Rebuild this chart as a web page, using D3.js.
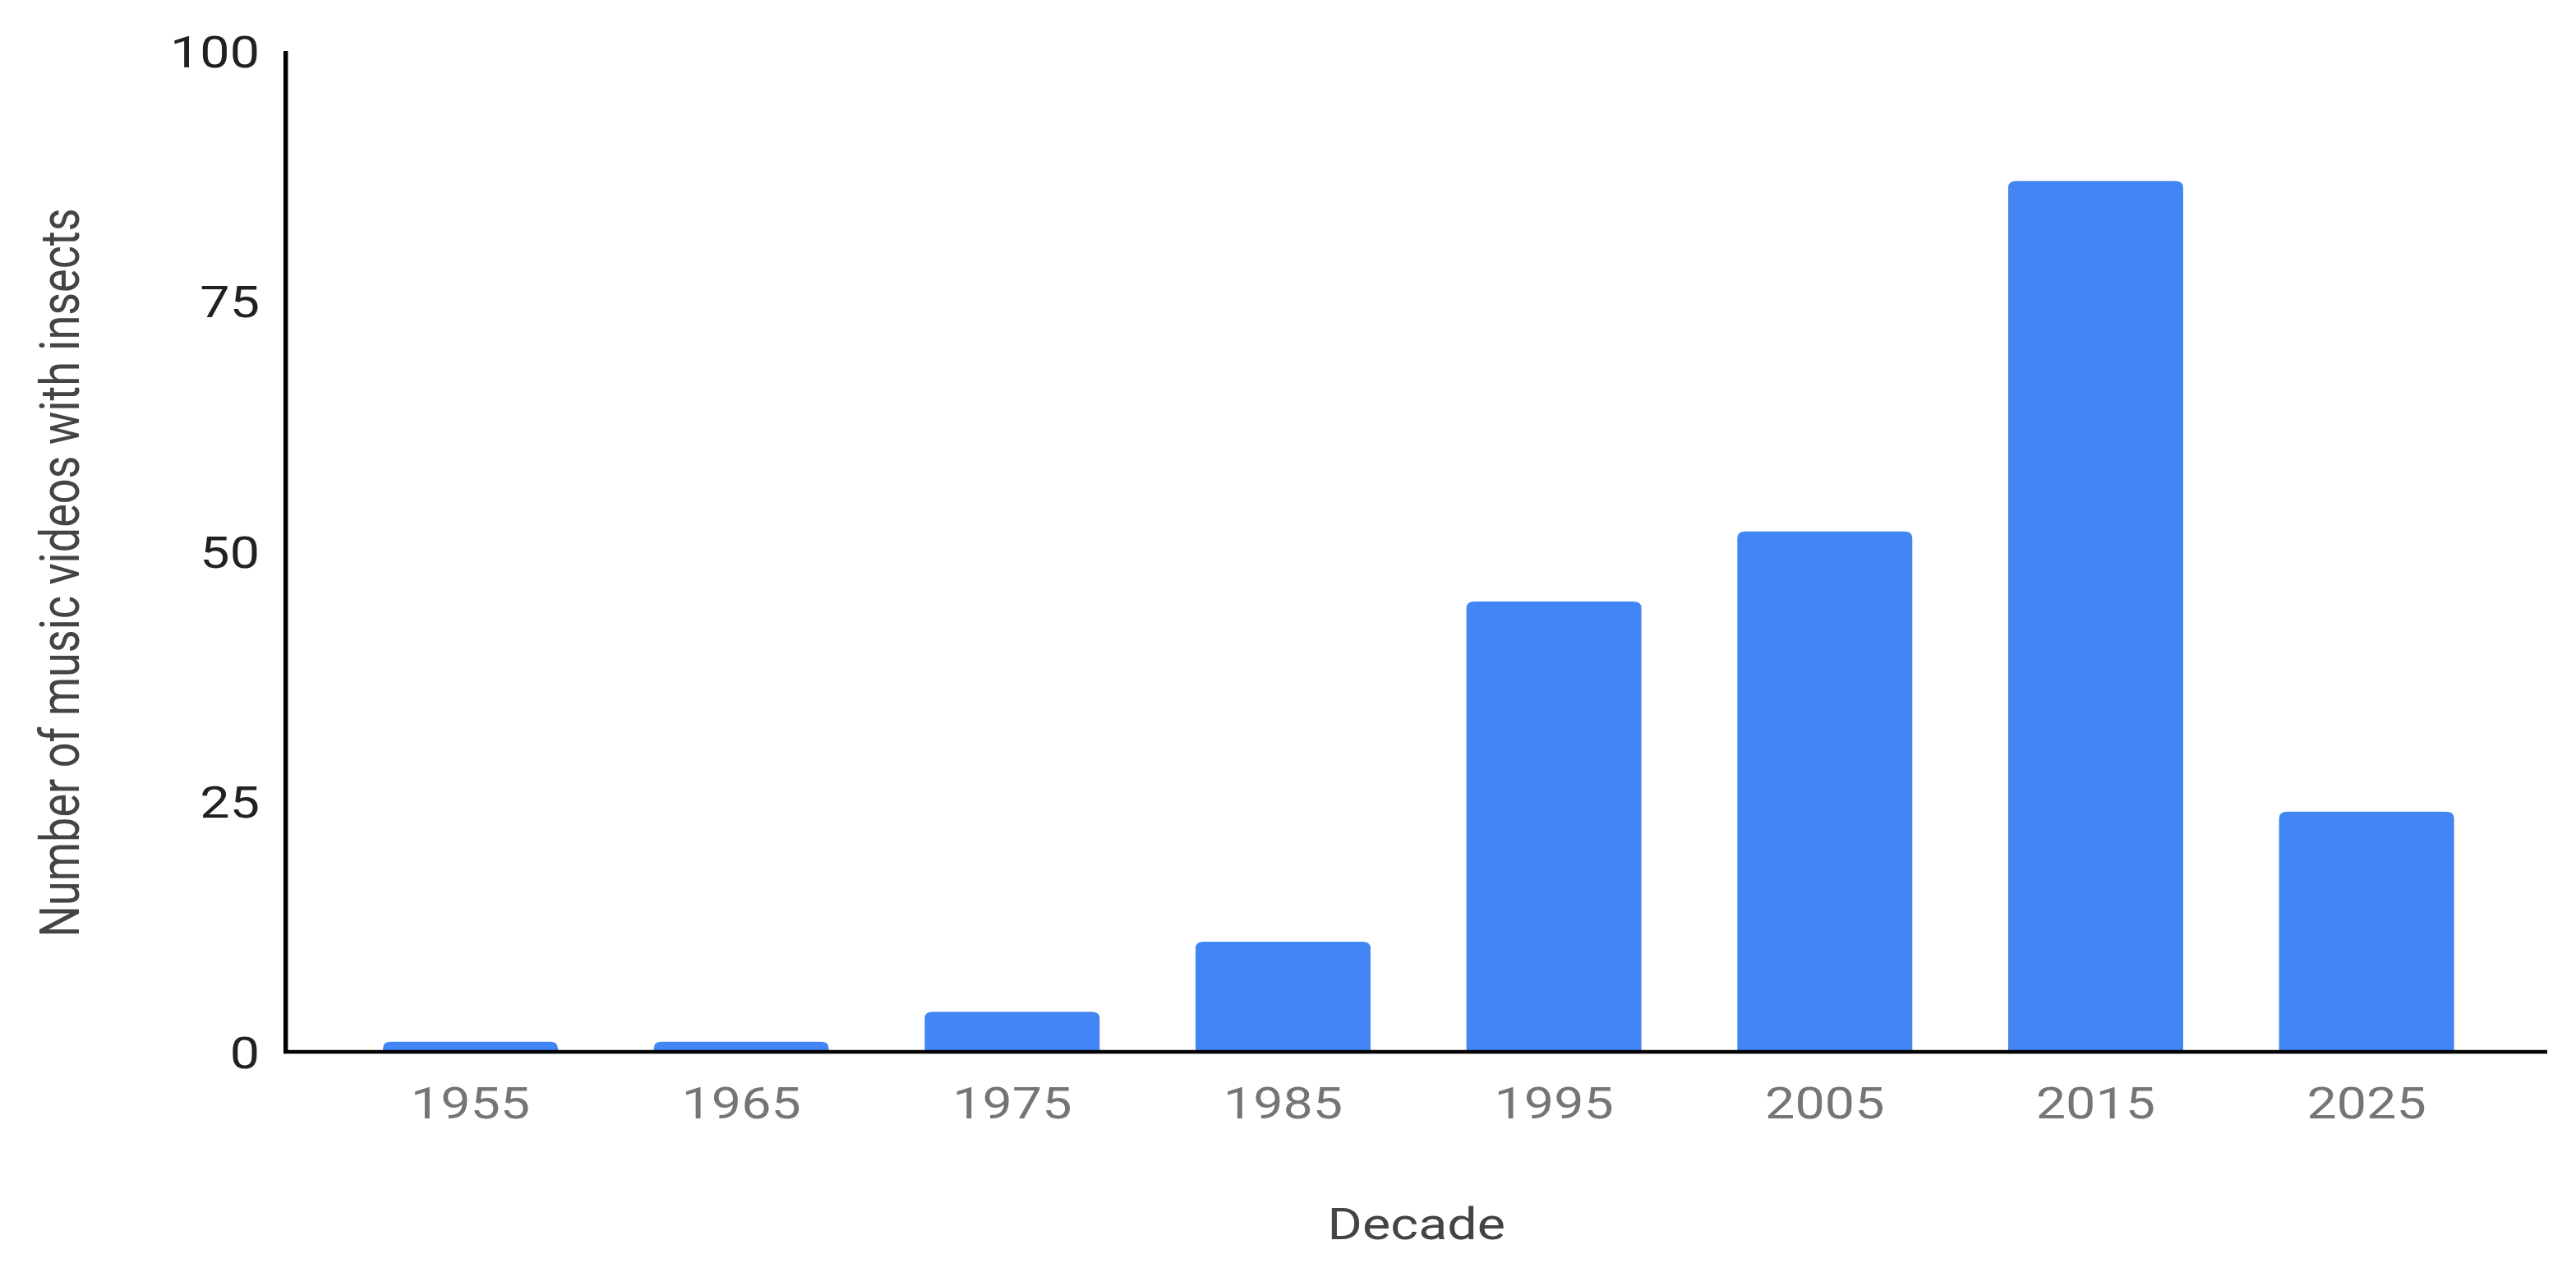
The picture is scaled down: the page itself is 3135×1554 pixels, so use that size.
<!DOCTYPE html>
<html>
<head>
<meta charset="utf-8">
<script src="https://cdn.jsdelivr.net/npm/d3@7"></script>
<style>
  html, body { margin: 0; padding: 0; background: #fff; }
  text { font-family: Roboto, sans-serif; }
</style>
</head>
<body>
<div id="d3-container"></div>
<script>
const decades = ['1955', '1965', '1975', '1985', '1995', '2005', '2015', '2025']
const videoCounts = [1, 1, 4, 11, 45, 52, 87, 24]
const yTicks = [0, 25, 50, 75, 100]

// the original picture is stretched sideways, so draw in a narrower box and let the viewBox stretch it
const stretch = 1.22
const outW = 3135
const height = 1554
const width = outW / stretch
const margin = { top: 62, bottom: 274, left: 285, right: width - 2541 }

const svg = d3.select('#d3-container')
    .append('svg')
    .attr('width', outW)
    .attr('height', height)
    .attr('viewBox', [0, 0, width, height])
    .attr('preserveAspectRatio', 'none')
    .style('display', 'block')

const x = d3.scaleBand()
    .domain(decades)
    .range([margin.left + 2.4, width - margin.right + 1.6])
    .paddingInner(0.354)
    .paddingOuter(0.35)

const y = d3.scaleLinear()
    .domain([0, 100])
    .range([height - margin.bottom, margin.top])

// bars with rounded top corners
function barPath(x0, y0, w, h, r) {
    r = Math.min(r, h, w / 2)
    return `M${x0},${y0 + h}V${y0 + r}Q${x0},${y0} ${x0 + r},${y0}` +
        `H${x0 + w - r}Q${x0 + w},${y0} ${x0 + w},${y0 + r}V${y0 + h}Z`
}

svg.append('g')
    .selectAll('path')
    .data(decades)
    .join('path')
        .attr('d', (d, i) => barPath(x(d), y(videoCounts[i]), x.bandwidth(), y(0) - y(videoCounts[i]), 8))
        .attr('fill', '#4285f4')

// x axis: baseline + gray labels
const xAxis = svg.append('g')
    .attr('transform', `translate(0,${y(0)})`)
    .call(d3.axisBottom(x).tickSize(0).tickPadding(0))
xAxis.select('.domain')
    .attr('stroke', '#000')
    .attr('stroke-width', 4.5)
    .attr('d', `M${margin.left - 2},0H${width - margin.right}`)
xAxis.selectAll('text')
    .attr('dy', null)
    .attr('y', 81)
    .attr('font-size', 53)
    .attr('font-family', 'Roboto, sans-serif')
    .attr('fill', '#757575')

// y axis: vertical line + dark labels
const yAxis = svg.append('g')
    .attr('transform', `translate(${margin.left},0)`)
    .call(d3.axisLeft(y).tickValues(yTicks).tickSize(0).tickPadding(26))
yAxis.select('.domain')
    .attr('stroke', '#000')
    .attr('stroke-width', 4.5)
    .attr('d', `M0,${margin.top}V${y(0) + 2}`)
yAxis.selectAll('text')
    .attr('dy', '0.36em')
    .attr('font-size', 53)
    .attr('font-family', 'Roboto, sans-serif')
    .attr('fill', '#212121')

svg.append('text')
    .attr('x', (margin.left + width - margin.right) / 2)
    .attr('y', 1508)
    .attr('text-anchor', 'middle')
    .attr('font-size', 53)
    .attr('fill', '#444')
    .text('Decade')

svg.append('text')
    .attr('transform', `translate(79,697) rotate(-90)`)
    .attr('text-anchor', 'middle')
    .attr('font-size', 54)
    .attr('fill', '#444')
    .text('Number of music videos with insects')
</script>
</body>
</html>
